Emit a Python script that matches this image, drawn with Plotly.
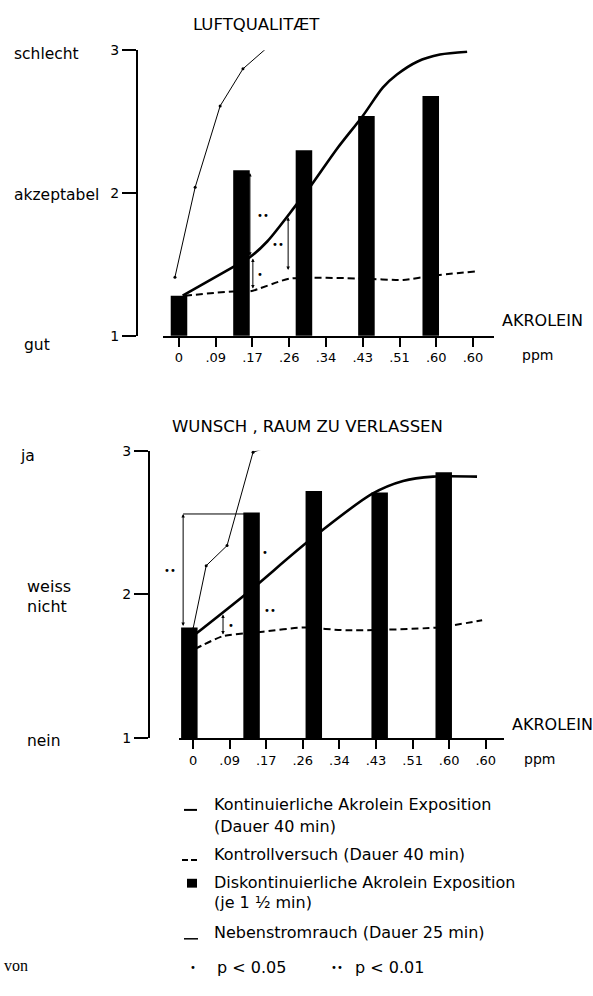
import plotly.graph_objects as go

W, H = 593, 996

# ---------------- data ----------------
ppm_ticks = ["0", ".09", ".17", ".26", ".34", ".43", ".51", ".60", ".60"]
ppm_pos = [0, 1, 2, 3, 4, 5, 6, 7, 8]
ytick_vals = [1, 2, 3]
ytick_text = ["1", "2", "3"]

# top panel: Luftqualitaet
lq_bar_x = [0.0, 1.7, 3.4, 5.1, 6.85]
lq_bar_y = [1.28, 2.16, 2.30, 2.54, 2.68]
lq_cont_x = [0.1, 1.6, 1.93, 2.4, 3.2, 3.56, 4.3, 5.0, 5.55, 5.93, 6.48, 7.1, 7.84]
lq_cont_y = [1.28, 1.50, 1.55, 1.66, 1.92, 2.04, 2.31, 2.54, 2.74, 2.83, 2.92, 2.97, 2.99]
lq_ctrl_x = [0.16, 1.47, 1.93, 3.02, 5.0, 6.1, 6.9, 8.05]
lq_ctrl_y = [1.28, 1.31, 1.31, 1.40, 1.40, 1.39, 1.42, 1.45]
lq_smoke_x = [-0.11, 0.44, 1.12, 1.74, 2.45]
lq_smoke_y = [1.41, 2.04, 2.61, 2.87, 3.03]
lq_sig_x = [1.93, 2.01, 2.97]
lq_sig_hi = [2.14, 1.54, 1.83]
lq_sig_lo = [1.55, 1.32, 1.45]
lq_sig_label = ["••", "•", "••"]

# bottom panel: Wunsch, Raum zu verlassen
wr_bar_x = [-0.1, 1.6, 3.3, 5.1, 6.85]
wr_bar_y = [1.77, 2.57, 2.72, 2.71, 2.85]
wr_cont_x = [0.0, 1.48, 3.2, 4.89, 5.74, 6.56, 7.76]
wr_cont_y = [1.71, 2.01, 2.38, 2.70, 2.79, 2.82, 2.82]
wr_ctrl_x = [0.05, 0.82, 1.48, 1.91, 3.0, 4.2, 6.67, 7.9]
wr_ctrl_y = [1.62, 1.71, 1.73, 1.74, 1.77, 1.75, 1.77, 1.82]
wr_smoke_x = [0.0, 0.36, 0.93, 1.64, 2.32]
wr_smoke_y = [1.76, 2.20, 2.34, 2.99, 3.05]
wr_sig_x = [-0.27, 1.75, 1.75, 0.82]
wr_sig_hi = [2.56, 2.56, 2.03, 1.86]
wr_sig_lo = [1.77, 2.03, 1.74, 1.71]
wr_sig_label = ["••", "•", "••", "•"]

legend_texts = [
    "Kontinuierliche Akrolein Exposition",
    "(Dauer 40 min)",
    "Kontrollversuch (Dauer 40 min)",
    "Diskontinuierliche Akrolein Exposition",
    "(je 1 ½ min)",
    "Nebenstromrauch (Dauer 25 min)",
]

# ---------------- layout helpers ----------------
FONT = "DejaVu Sans"


def px(x):
    return x / W


def py(y):
    return 1 - y / H


fig = go.Figure()


def add_panel(xa, ya, bx, by, cx, cy, kx, ky, sx, sy):
    fig.add_trace(go.Bar(x=bx, y=by, width=0.45, marker=dict(color="black", line=dict(width=0)),
                         xaxis=xa, yaxis=ya, showlegend=False))
    fig.add_trace(go.Scatter(x=cx, y=cy, mode="lines", line=dict(color="black", width=2.6, shape="spline", smoothing=0.8),
                             xaxis=xa, yaxis=ya, cliponaxis=False, showlegend=False))
    fig.add_trace(go.Scatter(x=kx, y=ky, mode="lines", line=dict(color="black", width=2, dash="7px,4px", shape="spline", smoothing=0.6),
                             xaxis=xa, yaxis=ya, cliponaxis=False, showlegend=False))
    fig.add_trace(go.Scatter(x=sx, y=sy, mode="lines+markers", line=dict(color="black", width=1),
                             marker=dict(size=3, color="black"),
                             xaxis=xa, yaxis=ya, cliponaxis=False, showlegend=False))


add_panel("x", "y", lq_bar_x, lq_bar_y, lq_cont_x, lq_cont_y, lq_ctrl_x, lq_ctrl_y, lq_smoke_x, lq_smoke_y)
add_panel("x2", "y2", wr_bar_x, wr_bar_y, wr_cont_x, wr_cont_y, wr_ctrl_x, wr_ctrl_y, wr_smoke_x, wr_smoke_y)

xcommon = dict(showline=True, linecolor="black", linewidth=2, ticks="outside", ticklen=9, tickwidth=1.5,
               tickcolor="black", tickvals=ppm_pos, ticktext=ppm_ticks, showgrid=False, zeroline=False,
               tickfont=dict(family=FONT, size=13, color="black"), fixedrange=True)
ycommon = dict(showline=True, linecolor="black", linewidth=2, ticks="outside", ticklen=14, tickwidth=1.5,
               tickcolor="black", tickvals=ytick_vals, ticktext=ytick_text, showgrid=False, zeroline=False,
               range=[1, 3], anchor="free", tickfont=dict(family=FONT, size=14, color="black"), fixedrange=True)

fig.update_layout(
    width=W, height=H, autosize=False,
    margin=dict(l=0, r=0, t=0, b=0),
    paper_bgcolor="white", plot_bgcolor="rgba(0,0,0,0)",
    barmode="overlay", showlegend=False,
    xaxis=dict(domain=[px(163), px(494)], range=[-0.435, 8.571], anchor="y", **xcommon),
    yaxis=dict(domain=[py(333), py(43)], position=px(137), **ycommon),
    xaxis2=dict(domain=[px(179), px(504)], range=[-0.383, 8.497], anchor="y2", **xcommon),
    yaxis2=dict(domain=[py(742), py(450)], position=px(149), **ycommon),
)

ann = []
shapes = []


def txt(x, y, s, size=14, anchor="center", family=FONT, **kw):
    ann.append(dict(x=px(x), y=py(y), xref="paper", yref="paper", text=s, showarrow=False,
                    xanchor=anchor, yanchor="middle", font=dict(family=family, size=size, color="black"), **kw))


# titles and labels
txt(256, 17, "LUFTQUALITÆT", 16.5)
txt(307, 425, "WUNSCH , RAUM ZU VERLASSEN", 16.5)
txt(12, 47, "schlecht", 15.5, "left")
txt(12, 190, "akzeptabel", 15.5, "left")
txt(22, 342, "gut", 15.5, "left")
txt(18, 455, "ja", 15.5, "left")
txt(25, 588, "weiss", 16, "left")
txt(25, 608, "nicht", 16, "left")
txt(25, 745, "nein", 15.5, "left")
txt(500, 318, "AKROLEIN", 16, "left")
txt(510, 728, "AKROLEIN", 16, "left")
txt(520, 353, "ppm", 14, "left")
txt(522, 763, "ppm", 14, "left")
txt(2, 973, "von", 16, "left", family="Liberation Serif")


# significance arrows
def sig(xa, ya, xs, his, los, labs, shifts):
    for xv, hi, lo, lab, sh in zip(xs, his, los, labs, shifts):
        ann.append(dict(x=xv, y=hi, ax=xv, ay=lo, xref=xa, yref=ya, axref=xa, ayref=ya, text="",
                        showarrow=True, arrowhead=2, arrowsize=0.7, arrowwidth=1, arrowside="end+start",
                        arrowcolor="black", standoff=0, startstandoff=0))
        ann.append(dict(x=xv, y=(hi + lo) / 2, xref=xa, yref=ya, text=lab, showarrow=False,
                        xshift=sh, font=dict(family=FONT, size=10, color="black")))


sig("x", "y", lq_sig_x, lq_sig_hi, lq_sig_lo, lq_sig_label, [13, 7, -10])
sig("x2", "y2", wr_sig_x, wr_sig_hi, wr_sig_lo, wr_sig_label, [-13, 8, 13, 8])
# bracket joining the two compared bar tops (bottom panel)
shapes.append(dict(type="line", xref="x2", yref="y2", x0=wr_sig_x[0], x1=wr_sig_x[1],
                   y0=wr_sig_hi[0], y1=wr_sig_hi[1], line=dict(color="black", width=1)))

# legend
leg_y = [810, 832, 860, 889, 909, 940]
for t, yy in zip(legend_texts, leg_y):
    txt(212, yy, t, 16, "left")
shapes.append(dict(type="line", xref="paper", yref="paper", x0=px(184), x1=px(197), y0=py(815), y1=py(815),
                   line=dict(color="black", width=2)))
shapes.append(dict(type="line", xref="paper", yref="paper", x0=px(182), x1=px(200), y0=py(866), y1=py(866),
                   line=dict(color="black", width=2, dash="6px,3px")))
shapes.append(dict(type="rect", xref="paper", yref="paper", x0=px(187), x1=px(197), y0=py(894), y1=py(885),
                   fillcolor="black", line=dict(width=0)))
shapes.append(dict(type="line", xref="paper", yref="paper", x0=px(184), x1=px(198), y0=py(946), y1=py(946),
                   line=dict(color="black", width=1.5)))
txt(193, 975, "•", 10)
txt(215, 975, "p < 0.05", 16, "left")
txt(337, 975, "••", 10)
txt(353, 975, "p < 0.01", 16, "left")

fig.update_layout(annotations=ann, shapes=shapes)

fig.write_html("out.html", config={"displayModeBar": False},
               post_script="document.body.style.margin='0';document.body.style.overflow='hidden';")
